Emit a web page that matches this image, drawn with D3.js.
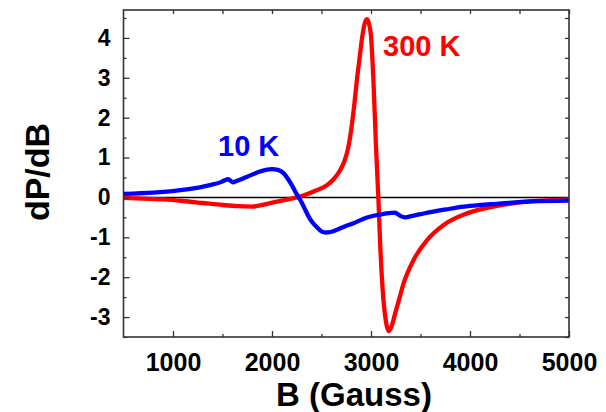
<!DOCTYPE html>
<html>
<head>
<meta charset="utf-8">
<script src="https://cdn.jsdelivr.net/npm/d3@7"></script>
<style>
  body { margin: 0; background: white; }
  svg { display: block; }
</style>
</head>
<body>
<div id="svg-container"></div>
<script>

// 300 K spectrum (field in Gauss, derivative signal)
var FIELD_300K = [500, 700, 900, 1100, 1300, 1500, 1650, 1800, 1950, 2100, 2250, 2350, 2450, 2550, 2620, 2680, 2730, 2770, 2800, 2830, 2860, 2890, 2910, 2935, 2958, 2980, 3000, 3025, 3050, 3075, 3095, 3125, 3150, 3178, 3205, 3245, 3290, 3330, 3430, 3566, 3734, 3970, 4273, 4610, 5000];
var SIGNAL_300K = [-0.01, -0.03, -0.05, -0.09, -0.14, -0.19, -0.22, -0.23, -0.16, -0.08, 0.0, 0.08, 0.18, 0.30, 0.45, 0.65, 0.9, 1.25, 1.7, 2.3, 3.0, 3.6, 4.0, 4.35, 4.47, 4.35, 4.05, 2.9, 1.3, -0.05, -1.3, -2.55, -3.1, -3.35, -3.25, -2.9, -2.5, -2.15, -1.57, -1.07, -0.69, -0.40, -0.21, -0.10, -0.05];

// 10 K spectrum
var FIELD_10K = [500, 800, 1140, 1375, 1490, 1525, 1555, 1580, 1605, 1640, 1750, 1880, 2000, 2060, 2116, 2160, 2200, 2245, 2285, 2330, 2370, 2410, 2453, 2500, 2540, 2600, 2656, 2740, 2824, 2920, 3026, 3130, 3200, 3240, 3270, 3300, 3346, 3420, 3500, 3600, 3760, 3936, 4100, 4273, 4610, 5000];
var SIGNAL_10K = [0.09, 0.12, 0.2, 0.31, 0.39, 0.43, 0.46, 0.42, 0.38, 0.41, 0.52, 0.65, 0.71, 0.69, 0.61, 0.47, 0.31, 0.1, -0.06, -0.28, -0.48, -0.63, -0.75, -0.85, -0.88, -0.86, -0.81, -0.72, -0.65, -0.54, -0.46, -0.41, -0.39, -0.38, -0.42, -0.47, -0.50, -0.46, -0.42, -0.37, -0.30, -0.23, -0.19, -0.16, -0.10, -0.08];

var X_TICKS = [1000, 2000, 3000, 4000, 5000];
var X_MINOR = [1500, 2500, 3500, 4500];
var Y_TICKS = [-3, -2, -1, 0, 1, 2, 3, 4];
var Y_MINOR = [-3.5, -2.5, -1.5, -0.5, 0.5, 1.5, 2.5, 3.5, 4.5];

const WIDTH = 606;
const HEIGHT = 412;
const FONT = "'Liberation Sans', Arial, Helvetica, sans-serif";

var margin = {left: 123.5, right: 37, top: 10, bottom: 75};

var svg = d3.select("#svg-container")
  .append("svg")
  .attr("width", WIDTH)
  .attr("height", HEIGHT);

var x = d3.scaleLinear()
  .domain([500, 5000])
  .range([margin.left, WIDTH - margin.right]);

var y = d3.scaleLinear()
  .domain([-3.5, 4.7])
  .range([HEIGHT - margin.bottom, margin.top]);

function zip(xs, ys) {
  return xs.map(function(d, i) { return [d, ys[i]]; });
}

var line = d3.line()
  .x(function(d) { return x(d[0]); })
  .y(function(d) { return y(d[1]); })
  .curve(d3.curveMonotoneX);

// Zero reference line
svg.append("line")
  .attr("x1", x(500))
  .attr("x2", x(5000))
  .attr("y1", y(0))
  .attr("y2", y(0))
  .attr("stroke", "black")
  .attr("stroke-width", 1.6);

// Spectra, red first so blue sits on top
svg.append("path")
  .attr("d", line(zip(FIELD_300K, SIGNAL_300K)))
  .attr("fill", "none")
  .attr("stroke", "#ff0000")
  .attr("stroke-width", 4.3)
  .attr("stroke-linejoin", "round");

svg.append("path")
  .attr("d", line(zip(FIELD_10K, SIGNAL_10K)))
  .attr("fill", "none")
  .attr("stroke", "#0000ff")
  .attr("stroke-width", 4.3)
  .attr("stroke-linejoin", "round");

// Axes with inward ticks on all four sides
function tickAxis(axis, ticks, size, labels) {
  // plain hyphen for negatives, like the original plot
  return axis.tickValues(ticks).tickSize(size).tickSizeOuter(0)
    .tickFormat(labels ? function(d) { return String(d); } : "");
}

function styleAxis(g, fontSize) {
  g.select(".domain").remove();
  g.selectAll(".tick line").attr("stroke", "#333").attr("stroke-width", 1.3);
  g.selectAll("text")
    .attr("font-family", FONT)
    .attr("font-weight", "bold")
    .attr("font-size", fontSize)
    .attr("fill", "black");
}

var bottom = HEIGHT - margin.bottom;
var right = WIDTH - margin.right;

svg.append("g").attr("transform", "translate(0," + bottom + ")")
  .call(tickAxis(d3.axisBottom(x), X_TICKS, -6, true).tickPadding(16))
  .call(styleAxis, 25);
svg.append("g").attr("transform", "translate(0," + bottom + ")")
  .call(tickAxis(d3.axisBottom(x), X_MINOR, -3, false))
  .call(styleAxis, 25);
svg.append("g").attr("transform", "translate(0," + margin.top + ")")
  .call(tickAxis(d3.axisTop(x), X_TICKS.concat(X_MINOR), -4, false))
  .call(styleAxis, 25);

svg.append("g").attr("transform", "translate(" + margin.left + ",0)")
  .call(tickAxis(d3.axisLeft(y), Y_TICKS, -6, true).tickPadding(13))
  .call(styleAxis, 23);
svg.append("g").attr("transform", "translate(" + margin.left + ",0)")
  .call(tickAxis(d3.axisLeft(y), Y_MINOR, -3, false))
  .call(styleAxis, 23);
svg.append("g").attr("transform", "translate(" + right + ",0)")
  .call(tickAxis(d3.axisRight(y), Y_TICKS.concat(Y_MINOR), -4, false))
  .call(styleAxis, 23);

// Frame
svg.append("rect")
  .attr("x", margin.left)
  .attr("y", margin.top)
  .attr("width", right - margin.left)
  .attr("height", bottom - margin.top)
  .attr("fill", "none")
  .attr("stroke", "#333")
  .attr("stroke-width", 1.6);

// Axis titles
svg.append("text")
  .attr("x", 354)
  .attr("y", 406)
  .attr("text-anchor", "middle")
  .attr("font-family", FONT)
  .attr("font-weight", "bold")
  .attr("font-size", 33)
  .text("B (Gauss)");

svg.append("text")
  .attr("transform", "translate(49,172) rotate(-90)")
  .attr("text-anchor", "middle")
  .attr("font-family", FONT)
  .attr("font-weight", "bold")
  .attr("font-size", 34)
  .text("dP/dB");

// Curve labels
svg.append("text")
  .attr("x", 383)
  .attr("y", 56)
  .attr("font-family", FONT)
  .attr("font-weight", "bold")
  .attr("font-size", 29)
  .attr("fill", "#ff0000")
  .text("300 K");

svg.append("text")
  .attr("x", 218)
  .attr("y", 156)
  .attr("font-family", FONT)
  .attr("font-weight", "bold")
  .attr("font-size", 29)
  .attr("fill", "#0000ff")
  .text("10 K");

</script>
</body>
</html>
